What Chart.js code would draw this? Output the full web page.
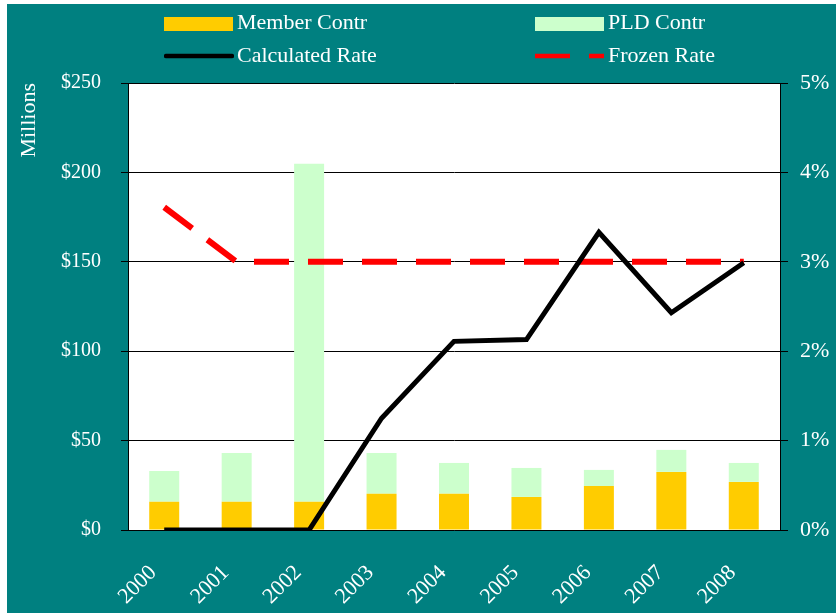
<!DOCTYPE html>
<html>
<head>
<meta charset="utf-8">
<title>Contributions and Rates</title>
<script src="https://cdn.jsdelivr.net/npm/chart.js@4.4.0/dist/chart.umd.min.js"></script>
<style>
  html, body { margin: 0; padding: 0; background: #ffffff; }
  #frame { position: absolute; left: 7px; top: 4px; width: 829px; height: 609px; background: #008080; }
  #legend { position: absolute; left: 0; top: 0; width: 836px; height: 80px; }
  .lg-item { position: absolute; height: 32px; }
  .lg-item canvas { position: absolute; left: 0; }
  .lg-item span {
    position: absolute; left: 73px; white-space: nowrap;
    font-family: 'Liberation Serif', serif; font-size: 22px; line-height: 22px; color: #ffffff;
  }
</style>
</head>
<body>
<div id="frame">
  <canvas id="rate-chart" width="829" height="609"></canvas>
</div>
<div id="legend"></div>
<script>
const years = ['2000', '2001', '2002', '2003', '2004', '2005', '2006', '2007', '2008'];
const memberContr = [15.8, 15.8, 15.8, 20.3, 20.3, 18.5, 24.6, 32.5, 26.9];
const pldContr = [17.2, 27.3, 189, 22.8, 17.2, 16.2, 9.0, 12.3, 10.6];
const calculatedRate = [0, 0, 0, 1.25, 2.11, 2.13, 3.33, 2.43, 2.99];
const frozenRate = [3.61, 3, 3, 3, 3, 3, 3, 3, 3];
const dollarMax = 250;
const percentMax = 5;

const serif = 'Liberation Serif';
const white = '#ffffff';

// white plot area on the teal frame
const plotBackground = {
    id: 'plotBackground',
    beforeDraw(chart) {
        const { ctx, chartArea } = chart;
        ctx.save();
        ctx.fillStyle = '#ffffff';
        ctx.fillRect(chartArea.left, chartArea.top, chartArea.width, chartArea.height);
        ctx.restore();
    }
};

const ctx = document.getElementById('rate-chart').getContext('2d');

const rateChart = new Chart(ctx, {
    data: {
        labels: years,
        datasets: [
            {
                type: 'line',
                label: 'Calculated Rate',
                data: calculatedRate,
                yAxisID: 'y1',
                borderColor: '#000000',
                borderWidth: 5,
                borderJoinStyle: 'miter',
                pointRadius: 0,
                tension: 0,
                order: 0
            },
            {
                type: 'line',
                label: 'Frozen Rate',
                data: frozenRate,
                yAxisID: 'y1',
                borderColor: '#ff0000',
                borderWidth: 6,
                borderDash: [35, 19],
                pointRadius: 0,
                tension: 0,
                order: 0
            },
            {
                type: 'bar',
                label: 'Member Contr',
                data: memberContr,
                yAxisID: 'y',
                stack: 'contr',
                backgroundColor: '#ffcc00',
                barPercentage: 0.414,
                categoryPercentage: 1,
                order: 1
            },
            {
                type: 'bar',
                label: 'PLD Contr',
                data: pldContr,
                yAxisID: 'y',
                stack: 'contr',
                backgroundColor: '#ccffcc',
                barPercentage: 0.414,
                categoryPercentage: 1,
                order: 1
            }
        ]
    },
    options: {
        responsive: false,
        animation: false,
        devicePixelRatio: 1,
        layout: { padding: { top: 79, left: 0, right: 0, bottom: 0 } },
        plugins: { legend: { display: false }, tooltip: { enabled: false } },
        scales: {
            x: {
                stacked: true,
                grid: { display: false, drawTicks: false },
                border: { display: false },
                ticks: {
                    color: white,
                    font: { family: serif, size: 22 },
                    maxRotation: 45,
                    minRotation: 45,
                    autoSkip: false,
                    padding: 30,
                    labelOffset: -11
                },
                afterFit: (scale) => { scale.height = 83; }
            },
            y: {
                stacked: true,
                position: 'left',
                min: 0,
                max: dollarMax,
                ticks: {
                    stepSize: 50,
                    color: white,
                    font: { family: serif, size: 20 },
                    padding: 20,
                    callback: (v) => '$' + v
                },
                grid: { color: '#000000', lineWidth: 1, tickLength: 7 },
                border: { color: '#000000' },
                title: {
                    display: true,
                    text: 'Millions',
                    align: 'end',
                    color: white,
                    font: { family: serif, size: 22 },
                    padding: { top: 9, bottom: 0 }
                },
                afterFit: (scale) => { scale.width = 121; }
            },
            y1: {
                position: 'right',
                min: 0,
                max: percentMax,
                ticks: {
                    stepSize: 1,
                    color: white,
                    font: { family: serif, size: 22 },
                    padding: 12,
                    callback: (v) => v + '%'
                },
                grid: { drawOnChartArea: false, color: '#000000', tickLength: 8 },
                border: { color: '#000000' },
                afterFit: (scale) => { scale.width = 56; }
            }
        }
    },
    plugins: [plotBackground]
});

// --- HTML legend, 2 x 2 grid ---
const legendSlots = {
    'Member Contr': { left: 164, top: 0 },
    'PLD Contr': { left: 535, top: 0 },
    'Calculated Rate': { left: 164, top: 40 },
    'Frozen Rate': { left: 535, top: 40 }
};

function addLegendItem(ds) {
    const slot = legendSlots[ds.label];
    const item = document.createElement('div');
    item.className = 'lg-item';
    item.style.left = slot.left + 'px';
    item.style.top = slot.top + 'px';

    const sw = document.createElement('canvas');
    sw.width = 70;
    sw.height = 32;
    const c = sw.getContext('2d');
    if (ds.type === 'bar') {
        c.fillStyle = ds.backgroundColor;
        c.fillRect(0, 17, 69, 14);
    } else {
        c.strokeStyle = ds.borderColor;
        c.lineWidth = 4.5;
        c.lineCap = ds.borderDash ? 'butt' : 'round';
        c.setLineDash(ds.borderDash || []);
        c.beginPath();
        c.moveTo(ds.borderDash ? 0 : 2, 16);
        c.lineTo(ds.borderDash ? 69 : 68, 16);
        c.stroke();
    }
    item.appendChild(sw);

    const txt = document.createElement('span');
    txt.textContent = ds.label;
    txt.style.top = (ds.type === 'bar' ? 11 : 4) + 'px';
    item.appendChild(txt);

    document.getElementById('legend').appendChild(item);
}

['Member Contr', 'PLD Contr', 'Calculated Rate', 'Frozen Rate'].forEach((name) => {
    addLegendItem(rateChart.data.datasets.find((d) => d.label === name));
});
</script>
</body>
</html>
